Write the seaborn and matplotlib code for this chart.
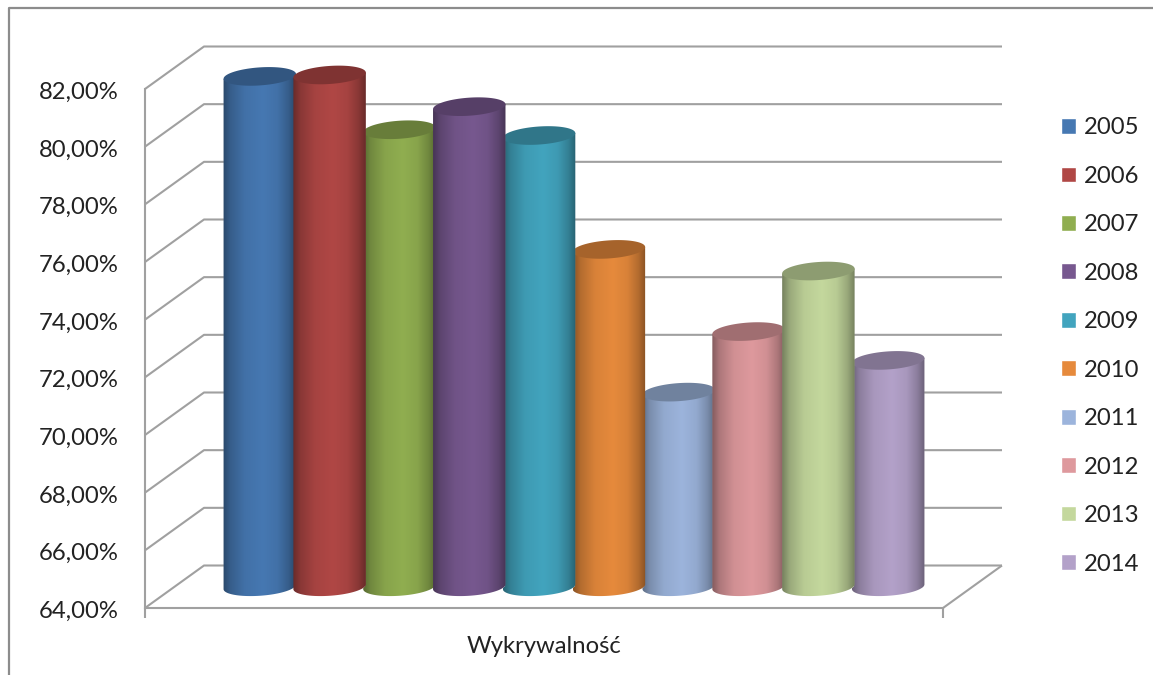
import matplotlib

matplotlib.use("Agg")

import matplotlib.pyplot as plt
import numpy as np
import pandas as pd
import seaborn as sns
from matplotlib.colors import to_rgb
from matplotlib.lines import Line2D
from matplotlib.patches import Polygon
from matplotlib.path import Path
from matplotlib.transforms import Affine2D, IdentityTransform

years = ["2005", "2006", "2007", "2008", "2009", "2010", "2011", "2012", "2013", "2014"]
values = [81.7, 81.75, 79.85, 80.65, 79.65, 75.7, 70.75, 72.85, 74.95, 71.85]
colors = ["#4678b2", "#b04745", "#90ae50", "#77588f", "#42a4be",
          "#e68a3c", "#9cb4dc", "#de999d", "#c4d89d", "#b3a1c9"]
y_ticks = [64, 66, 68, 70, 72, 74, 76, 78, 80, 82]
category = "Wykrywalność"

GREY = "#a0a0a0"
W, H = 1153, 675
DEPTH_X, DEPTH_Y = 59, 42.5
FONT = 17.2

sns.set_theme(style="white")
plt.rcParams["font.family"] = ["Lato", "DejaVu Sans"]

fig = plt.figure(figsize=(W / 100, H / 100), dpi=100)
ax = fig.add_axes([145 / W, 1 - 608 / H, (943 - 145) / W, (608 - 89) / H])

df = pd.DataFrame({"kategoria": [category] * len(years), "rok": years, "wartosc": values})
sns.barplot(data=df, x="kategoria", y="wartosc", hue="rok", palette=colors,
            saturation=1, width=0.875, gap=0, ax=ax)
ax.set_xlim(-0.5, 0.5)
ax.set_ylim(64, 82)
ax.set_xlabel("")
ax.set_ylabel("")
ax.set_yticks(y_ticks)
ax.set_yticklabels([f"{t:.2f}%".replace(".", ",") for t in y_ticks])
ax.tick_params(axis="y", length=5.8, width=1.5, color=GREY, labelsize=FONT, labelcolor="#222222", pad=13)
ax.tick_params(axis="x", length=0, labelsize=FONT, labelcolor="#222222", pad=20)
for label in ax.get_yticklabels():
    label.set_transform(label.get_transform() + Affine2D().translate(0, -1.5))
sns.despine(ax=ax)
ax.spines["left"].set(color=GREY, linewidth=1.5)
ax.spines["bottom"].set(color=GREY, linewidth=1.5)

# walls of the fake 3D box
to_px = ax.transData.transform
px = IdentityTransform()
line_kw = dict(color=GREY, lw=1.5, transform=px, clip_on=False, zorder=1, solid_capstyle="butt")
for t in y_ticks:
    x0, y0 = to_px((-0.5, t))
    x1, _ = to_px((0.5, t))
    ax.plot([x0, x0 + DEPTH_X, x1 + DEPTH_X], [y0, y0 + DEPTH_Y, y0 + DEPTH_Y], **line_kw)
x0, y0 = to_px((-0.5, 64))
x1, _ = to_px((0.5, 64))
ax.plot([x1, x1 + DEPTH_X], [y0, y0 + DEPTH_Y], **line_kw)
for xe in (x0, x1):
    ax.plot([xe, xe], [y0, y0 - 10], **line_kw)

# cylinders on top of the seaborn bars
SHADE_POS = [0, 0.1, 0.3, 0.55, 0.75, 0.9, 1]
SHADE_VAL = [0.6, 0.78, 0.94, 1, 0.94, 0.78, 0.6]
TILT = np.deg2rad(4)
b = 9.0


def ellipse_pts(cx, cy, a, theta):
    ex, ey = a * np.cos(theta), b * np.sin(theta)
    return np.column_stack([cx + ex * np.cos(TILT) - ey * np.sin(TILT),
                            cy + ex * np.sin(TILT) + ey * np.cos(TILT)])


for container, value, color in zip(ax.containers, values, colors):
    bar = container[0]
    bar.set_y(64)
    bar.set_height(value - 64)
    bar.set_transform(ax.transData + Affine2D().translate(DEPTH_X / 2, DEPTH_Y / 2))
    bar.set_zorder(value)

    left, base = to_px((bar.get_x(), 64))
    right, top = to_px((bar.get_x() + bar.get_width(), value))
    cx = (left + right) / 2 + DEPTH_X / 2 + 0.5
    base += DEPTH_Y / 2
    top += DEPTH_Y / 2
    a = (right - left) / 2 * 1.04

    lower = ellipse_pts(cx, base, a, np.linspace(np.pi, 2 * np.pi, 60))
    upper = ellipse_pts(cx, top, a, np.array([0, np.pi]))
    outline = Path(np.vstack([lower, upper, lower[:1]]))
    bar.set_clip_box(fig.bbox)
    bar.set_clip_path(outline, px)

    pos = np.linspace(0, 1, 100)
    shade = np.interp(pos, SHADE_POS, SHADE_VAL)
    grad = np.outer(shade, np.array(to_rgb(color)))[np.newaxis, :, :]
    im = ax.imshow(grad, extent=[cx - a, cx + a, base - b - 4, top + b + 4], aspect="auto",
                   transform=px, interpolation="bilinear", zorder=value + 0.1)
    im.set_clip_box(fig.bbox)
    im.set_clip_path(outline, px)

    cap = ellipse_pts(cx, top, a, np.linspace(0, 2 * np.pi, 90))
    ax.add_patch(Polygon(cap, closed=True, transform=px, clip_on=False, linewidth=0,
                         facecolor=np.array(to_rgb(color)) * 0.72, zorder=value + 0.2))

ax.set_xlim(-0.5, 0.5)
ax.set_ylim(64, 82)

sns.move_legend(ax, "center left", bbox_to_anchor=(1.148, 0.505), title=None, frameon=False,
                fontsize=FONT, labelspacing=1.15, handlelength=0.63, handleheight=0.63,
                handletextpad=0.33, borderpad=0, borderaxespad=0)
for text in ax.get_legend().get_texts():
    text.set_color("#222222")

# chart area border, cropped on the other sides
fig.add_artist(Line2D([9 / W, 9 / W, 1], [0, 1 - 8 / H, 1 - 8 / H], color="#8c8c8c", lw=1.6))

fig.savefig("out.png", dpi=100)
